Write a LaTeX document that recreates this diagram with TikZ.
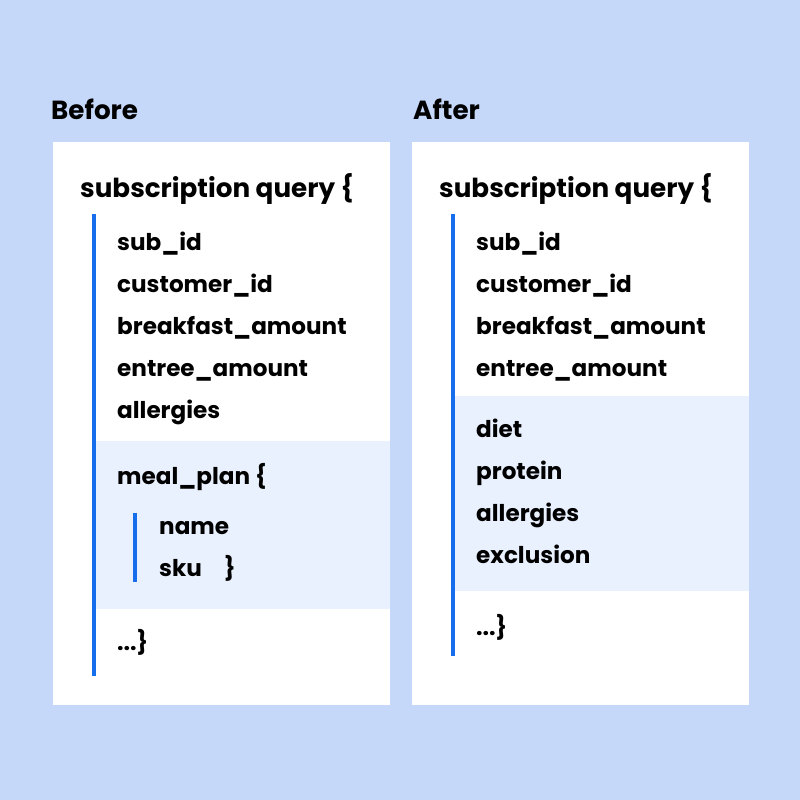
\documentclass[tikz,border=0pt]{standalone}
\usepackage{fontspec}
\setmainfont{Poppins}
\definecolor{bgblue}{RGB}{198,216,249}
\definecolor{hilite}{RGB}{234,241,254}
\definecolor{barblue}{RGB}{22,110,236}
\begin{document}
\begin{tikzpicture}[x=1pt,y=-1pt,
  head/.style={anchor=base west,inner sep=0pt,font=\fontsize{26.2}{30}\selectfont\bfseries},
  fld/.style={anchor=base west,inner sep=0pt,font=\fontsize{23.1}{27}\selectfont\bfseries},
  panel/.style={fill=white,draw=none},
  hl/.style={fill=hilite,draw=none},
  bar/.style={fill=barblue,draw=none}]
\fill[bgblue] (0,0) rectangle (800,800);
\useasboundingbox (0,0) rectangle (800,800);
% panels
\path[panel] (53,142) rectangle (390,705);
\path[panel] (412,142) rectangle (749,705);
% highlights
\path[hl] (95,441) rectangle (390,609);
\path[hl] (454,396) rectangle (749,591);
% bars
\path[bar] (92,214) rectangle (95.5,676);
\path[bar] (133,513) rectangle (137,582);
\path[bar] (451,214) rectangle (454.5,656);
% titles
\node[head] (tb) at (51,119) {Before};
\node[head] (ta) at (413,119) {After};
% left
\node[head] (lq) at (80,197) {subscription query \{};
\node[fld] (l1) at (117,250) {sub\_id};
\node[fld] (l2) at (117,292) {customer\_id};
\node[fld] (l3) at (117,334) {breakfast\_amount};
\node[fld] (l4) at (117,376) {entree\_amount};
\node[fld] (l5) at (117,418) {allergies};
\node[fld] (l6) at (117,484) {meal\_plan \{};
\node[fld] (l7) at (159,534) {name};
\node[fld] (l8) at (159,576) {sku};
\node[fld] (l8b) at (224,576) {\}};
\node[fld] (l9) at (117,650) {...\}};
% right
\node[head] (rq) at (439,197) {subscription query \{};
\node[fld] (r1) at (476,250) {sub\_id};
\node[fld] (r2) at (476,292) {customer\_id};
\node[fld] (r3) at (476,334) {breakfast\_amount};
\node[fld] (r4) at (476,376) {entree\_amount};
\node[fld] (r5) at (476,437) {diet};
\node[fld] (r6) at (476,479) {protein};
\node[fld] (r7) at (476,521) {allergies};
\node[fld] (r8) at (476,563) {exclusion};
\node[fld] (r9) at (476,635) {...\}};
\end{tikzpicture}
\end{document}
